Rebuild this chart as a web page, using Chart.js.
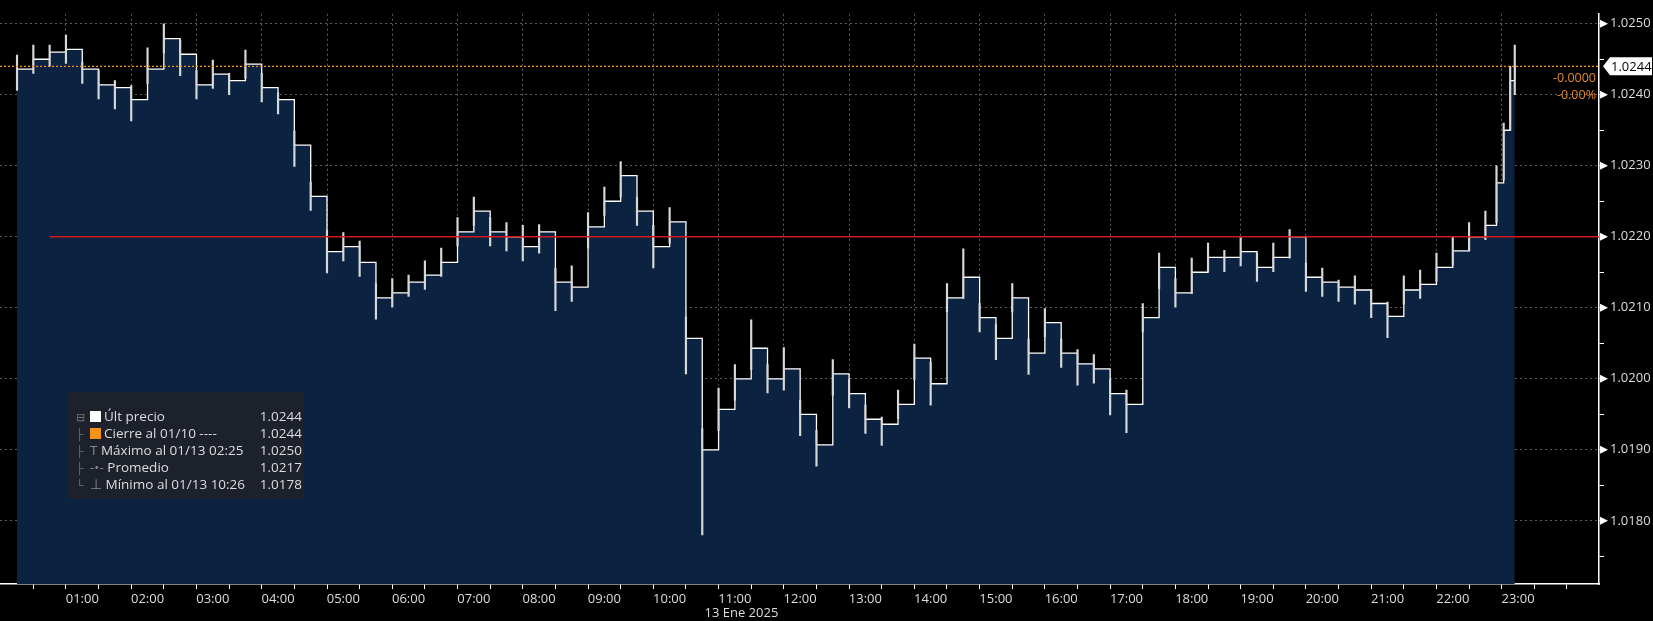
<!DOCTYPE html>
<html>
<head>
<meta charset="utf-8">
<script src="https://cdn.jsdelivr.net/npm/chart.js@4.4.1/dist/chart.umd.min.js"></script>
<style>
  html, body { margin: 0; padding: 0; background: #000; }
  #wrap { position: relative; width: 1653px; height: 621px; }
  #leyenda {
    position: absolute; left: 68px; top: 392px; width: 236px; height: 107px;
    background: rgba(30, 34, 42, 0.92); font-family: "Open Sans", sans-serif;
    font-size: 13.5px; color: #ddd; box-sizing: border-box; padding: 16px 0 0 6px;
  }
  .fila { position: relative; height: 17px; line-height: 17px; padding-left: 16px; white-space: nowrap; }
  .fila .v { position: absolute; right: 2px; top: 0; }
  .ico { display: inline-block; width: 11px; height: 11px; vertical-align: -1px; margin-right: 3px; }
  .arbol { position: absolute; left: 2px; color: #777; font-size: 11px; }
</style>
</head>
<body>
<div id="wrap">
  <canvas id="grafico" width="1653" height="621"></canvas>
  <div id="leyenda">
    <div class="fila"><span class="arbol">⊟</span><span class="ico" style="background:#fff"></span>Últ precio<span class="v">1.0244</span></div>
    <div class="fila"><span class="arbol">├</span><span class="ico" style="background:#f7931a"></span>Cierre al 01/10 ----<span class="v">1.0244</span></div>
    <div class="fila"><span class="arbol">├</span><span style="color:#888">T </span>Máximo al 01/13 02:25<span class="v">1.0250</span></div>
    <div class="fila"><span class="arbol">├</span><span style="color:#888">-•- </span>Promedio<span class="v">1.0217</span></div>
    <div class="fila"><span class="arbol">└</span><span style="color:#888">⊥ </span>Mínimo al 01/13 10:26<span class="v">1.0178</span></div>
  </div>
</div>
<script>
// Cierres cada 15 minutos desde 00:00 hasta 22:30, más el tramo final
const cierres = [
  1.02436, 1.02450, 1.02460, 1.02464, 1.02436, 1.02414, 1.02410, 1.02393,
  1.02436, 1.02479, 1.02457, 1.02414, 1.02429, 1.02420, 1.02443, 1.02410,
  1.02393, 1.02329, 1.02257, 1.02179, 1.02186, 1.02164, 1.02114, 1.02121,
  1.02136, 1.02146, 1.02164, 1.02207, 1.02236, 1.02207, 1.02200, 1.02186,
  1.02207, 1.02136, 1.02129, 1.02214, 1.02250, 1.02286, 1.02236, 1.02186,
  1.02221, 1.02057, 1.01900, 1.01957, 1.02000, 1.02043, 1.02000, 1.02014,
  1.01950, 1.01907, 1.02007, 1.01979, 1.01943, 1.01936, 1.01964, 1.02029,
  1.01993, 1.02114, 1.02143, 1.02086, 1.02057, 1.02114, 1.02036, 1.02079,
  1.02036, 1.02021, 1.02014, 1.01979, 1.01964, 1.02086, 1.02157, 1.02121,
  1.02150, 1.02171, 1.02171, 1.02179, 1.02157, 1.02171, 1.02200, 1.02143,
  1.02136, 1.02129, 1.02125, 1.02106, 1.02088, 1.02125, 1.02133, 1.02157,
  1.02180, 1.02200, 1.02216
];
const horasFinal = [22.67, 22.78, 22.88, 22.95];
const cierresFinal = [1.02276, 1.02350, 1.02420, 1.02440];

// Rango alto/bajo de cada tramo en pips (0.0001)
const pipsArriba = [
  2, 2, 1, 2, 1, 2, 1, 2, 3, 2, 2, 2, 2, 1, 2, 2,
  1, 2, 2, 3, 2, 3, 2, 2, 1, 2, 2, 2, 2, 2, 2, 3,
  1, 2, 3, 2, 2, 2, 2, 3, 2, 3, 3, 3, 2, 4, 2, 3,
  2, 2, 2, 2, 2, 1, 2, 2, 3, 2, 4, 2, 2, 2, 2, 2,
  2, 2, 2, 2, 2, 2, 2, 2, 2, 2, 1, 2, 2, 2, 1, 2,
  2, 1, 2, 2, 2, 2, 2, 2, 2, 2, 2
];
const pipsAbajo = [
  3, 2, 2, 2, 2, 2, 3, 3, 2, 2, 3, 2, 2, 2, 2, 2,
  2, 3, 2, 3, 2, 2, 3, 2, 2, 2, 2, 2, 2, 2, 2, 2,
  3, 4, 2, 3, 2, 3, 2, 3, 3, 5, 12, 3, 3, 3, 2, 3,
  3, 3, 3, 2, 2, 3, 2, 3, 3, 2, 3, 2, 3, 2, 3, 2,
  2, 3, 2, 3, 4, 2, 3, 2, 3, 2, 2, 2, 2, 2, 3, 2,
  2, 2, 2, 2, 3, 2, 2, 2, 2, 2, 2
];
const altosFinal = [1.02300, 1.02360, 1.02440, 1.02470];
const bajosFinal = [1.02220, 1.02280, 1.02350, 1.02400];

const ticksPrecio = [1.0180, 1.0190, 1.0200, 1.0210, 1.0220, 1.0230, 1.0240, 1.0250];
const cierreAnterior = 1.0244;
const aperturaDia = 1.0220;
const etiquetaFecha = '13 Ene 2025';

const horas = cierres.map((_, i) => i * 0.25).concat(horasFinal);
const todosCierres = cierres.concat(cierresFinal);
const altos = cierres.map((c, i) => c + pipsArriba[i] / 10000).concat(altosFinal);
const bajos = cierres.map((c, i) => c - pipsAbajo[i] / 10000).concat(bajosFinal);
// extremos del día
altos[9] = 1.0250;
bajos[42] = 1.0178;

const fuente = '"Open Sans", sans-serif';
const rejilla = 'rgba(170,170,170,0.55)';
const esHora = v => Math.abs(v - Math.round(v)) < 1e-6;
const esTickPrecio = v => ticksPrecio.some(p => Math.abs(p - v) < 1e-7);

const lineasExtra = {
    id: 'lineasExtra',
    afterDatasetsDraw(chart) {
        const { ctx, chartArea: a, scales: { x, y } } = chart;
        ctx.save();
        // línea de apertura (roja)
        ctx.strokeStyle = '#d0191c';
        ctx.lineWidth = 1.3;
        ctx.beginPath();
        ctx.moveTo(x.getPixelForValue(0.5), y.getPixelForValue(aperturaDia));
        ctx.lineTo(a.right, y.getPixelForValue(aperturaDia));
        ctx.stroke();
        // cierre anterior (naranja punteado)
        const yc = y.getPixelForValue(cierreAnterior);
        ctx.strokeStyle = '#f7931a';
        ctx.setLineDash([2, 2]);
        ctx.beginPath();
        ctx.moveTo(a.left, yc);
        ctx.lineTo(a.right, yc);
        ctx.stroke();
        ctx.setLineDash([]);
        ctx.fillStyle = '#e58a2a';
        ctx.font = '12.5px ' + fuente;
        ctx.textAlign = 'right';
        ctx.textBaseline = 'middle';
        ctx.fillText('-0.0000', a.right - 3, yc + 12);
        ctx.fillText('-0.00%', a.right - 3, yc + 29);
        // triángulos de ticks del eje y
        ctx.fillStyle = '#fff';
        ticksPrecio.forEach(t => {
            const yy = y.getPixelForValue(t);
            ctx.beginPath();
            ctx.moveTo(a.right + 1, yy - 4);
            ctx.lineTo(a.right + 9, yy);
            ctx.lineTo(a.right + 1, yy + 4);
            ctx.fill();
        });
        // etiqueta del último precio
        ctx.beginPath();
        ctx.moveTo(a.right + 4, yc);
        ctx.lineTo(a.right + 11, yc - 9);
        ctx.lineTo(1652, yc - 9);
        ctx.lineTo(1652, yc + 9);
        ctx.lineTo(a.right + 11, yc + 9);
        ctx.closePath();
        ctx.fill();
        ctx.fillStyle = '#000';
        ctx.textAlign = 'left';
        ctx.font = '13px ' + fuente;
        ctx.fillText(cierreAnterior.toFixed(4), a.right + 12, yc + 1);
        // fecha bajo el eje x
        ctx.fillStyle = '#ddd';
        ctx.textAlign = 'center';
        ctx.fillText(etiquetaFecha, x.getPixelForValue(11.1), a.bottom + 29);
        ctx.restore();
    }
};

new Chart(document.getElementById('grafico').getContext('2d'), {
    data: {
        datasets: [
            {
                type: 'bar',
                data: horas.map((h, i) => ({ x: h, y: [bajos[i], altos[i]] })),
                backgroundColor: '#d8d8d8',
                barThickness: 1.5,
                order: 1
            },
            {
                type: 'line',
                data: horas.map((h, i) => ({ x: h, y: todosCierres[i] })),
                borderColor: '#ffffff',
                borderWidth: 1.3,
                stepped: true,
                pointRadius: 0,
                fill: 'start',
                backgroundColor: '#0b2341',
                order: 2
            }
        ]
    },
    options: {
        responsive: false,
        animation: false,
        layout: { padding: 0 },
        plugins: { legend: { display: false }, tooltip: { enabled: false } },
        scales: {
            x: {
                type: 'linear',
                min: 0,
                max: 23.98,
                z: 1,
                afterBuildTicks: s => {
                    const t = [];
                    for (let h = 0.5; h < 23.9; h += 0.5) t.push({ value: h });
                    s.ticks = t;
                },
                afterFit: s => { s.height = 37; },
                border: { color: '#fff', width: 1.5, dash: [2, 3] },
                grid: {
                    color: c => (c.tick && esHora(c.tick.value)) ? rejilla : 'transparent',
                    tickColor: '#fff',
                    tickLength: 5,
                    tickBorderDash: [],
                    lineWidth: 1
                },
                ticks: {
                    autoSkip: false,
                    maxRotation: 0,
                    color: '#ddd',
                    font: { family: fuente, size: 13 },
                    padding: 2,
                    callback: v => esHora(v) ? String(Math.round(v)).padStart(2, '0') + ':00' : ''
                }
            },
            y: {
                position: 'right',
                min: 1.01711,
                max: 1.02514,
                z: 1,
                afterBuildTicks: s => {
                    const t = [];
                    ticksPrecio.forEach(v => { t.push({ value: v - 0.0005 }); t.push({ value: v }); });
                    s.ticks = t;
                },
                afterFit: s => { s.width = 54; },
                border: { color: '#fff', width: 1.5, dash: [2, 3] },
                grid: {
                    color: c => (c.tick && esTickPrecio(c.tick.value)) ? rejilla : 'transparent',
                    tickColor: '#fff',
                    tickLength: 5,
                    tickBorderDash: []
                },
                ticks: {
                    autoSkip: false,
                    color: '#ddd',
                    font: { family: fuente, size: 13 },
                    padding: 6,
                    callback: v => esTickPrecio(v) ? v.toFixed(4) : ''
                }
            }
        }
    },
    plugins: [lineasExtra]
});
</script>
</body>
</html>
